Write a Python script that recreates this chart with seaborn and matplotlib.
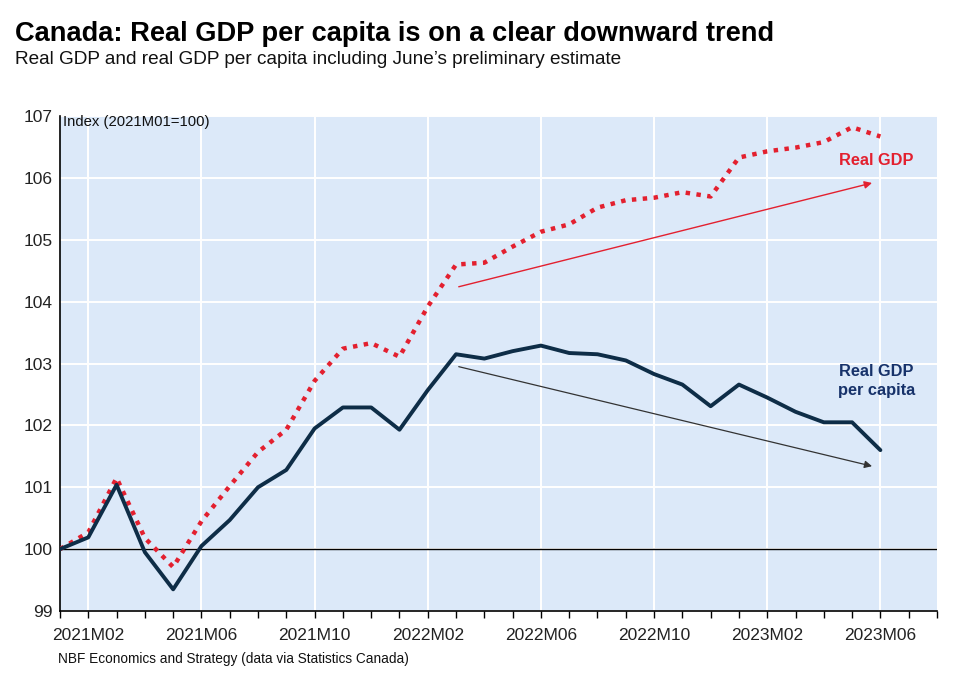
import matplotlib
matplotlib.use("Agg")
import matplotlib.pyplot as plt
import seaborn as sns
import pandas as pd

# ---- data ----
months = [f"{y}M{m:02d}" for y in (2021, 2022, 2023) for m in range(1, 13)][:30]
real_gdp = [100.0, 100.27, 101.15, 100.18, 99.71, 100.45, 101.02, 101.57, 101.93, 102.72,
            103.24, 103.33, 103.11, 103.92, 104.60, 104.63, 104.89, 105.13, 105.25, 105.52,
            105.64, 105.68, 105.77, 105.70, 106.33, 106.43, 106.49, 106.58, 106.82, 106.67]
real_gdp_pc = [100.0, 100.19, 101.04, 99.95, 99.35, 100.05, 100.47, 101.0, 101.28, 101.95,
               102.29, 102.29, 101.93, 102.57, 103.15, 103.08, 103.2, 103.29, 103.17, 103.15,
               103.05, 102.83, 102.66, 102.31, 102.66, 102.45, 102.22, 102.05, 102.05, 101.60]
tick_labels = ["2021M02", "2021M06", "2021M10", "2022M02", "2022M06", "2022M10", "2023M02", "2023M06"]
y_ticks = [99, 100, 101, 102, 103, 104, 105, 106, 107]

RED = "#e3202f"
NAVY = "#0e2d47"
BG = "#dce9f9"

df = pd.DataFrame({"idx": list(range(len(months))), "month": months,
                   "gdp": real_gdp, "gdp_pc": real_gdp_pc})

sns.set_theme(style="white")
plt.rcParams["font.family"] = ["Liberation Sans", "DejaVu Sans"]

fig = plt.figure(figsize=(9.6, 6.91), dpi=100)
ax = fig.add_axes([0.0625, 0.1158, 0.9135, 0.7162])
ax.set_facecolor(BG)

# grid
for t in y_ticks:
    ax.axhline(t, color="white", lw=1.4, zorder=0.5)
major_pos = [months.index(l) for l in tick_labels]
for p in major_pos:
    ax.axvline(p, color="white", lw=1.4, zorder=0.5)
ax.axhline(100, color="black", lw=1.0, zorder=1)

sns.lineplot(data=df, x="idx", y="gdp", ax=ax, color=RED, lw=3.2,
             linestyle=(0, (1, 1.45)), zorder=3)
sns.lineplot(data=df, x="idx", y="gdp_pc", ax=ax, color=NAVY, lw=2.8, zorder=4)

ax.set_xlim(0, 31)
ax.set_ylim(99, 107)
ax.set_xticks(major_pos)
ax.set_xticklabels(tick_labels)
ax.set_xticks(range(0, 32), minor=True)
ax.set_yticks(y_ticks)
ax.set_xlabel("")
ax.set_ylabel("")
ax.tick_params(axis="x", which="both", direction="out", length=5, width=1, color="black",
               bottom=True, labelsize=12.5, pad=7, labelcolor="#222222")
ax.tick_params(axis="y", length=0, labelsize=12.5, pad=5, labelcolor="#222222")

for s in ["top", "right"]:
    ax.spines[s].set_visible(False)
for s in ["left", "bottom"]:
    ax.spines[s].set_color("black")
    ax.spines[s].set_linewidth(1.2)

# arrows
ax.annotate("", xy=(28.8, 105.93), xytext=(14.0, 104.23),
            arrowprops=dict(arrowstyle="-|>", color=RED, lw=1.0, mutation_scale=11))
ax.annotate("", xy=(28.8, 101.33), xytext=(14.0, 102.96),
            arrowprops=dict(arrowstyle="-|>", color="#333333", lw=0.9, mutation_scale=11))

ax.text(28.85, 106.28, "Real GDP", color=RED, fontsize=11.8, fontweight="bold", ha="center", va="center")
ax.text(28.85, 102.72, "Real GDP\nper capita", color="#17326a", fontsize=11.8, fontweight="bold",
        ha="center", va="center", linespacing=1.3)
ax.text(0.12, 106.9, "Index (2021M01=100)", fontsize=10.7, ha="left", va="center", color="#111111")

fig.text(15 / 960, 1 - 34 / 691, "Canada: Real GDP per capita is on a clear downward trend",
         fontsize=19.6, fontweight="bold", ha="left", va="center", color="black")
fig.text(15 / 960, 1 - 60 / 691, "Real GDP and real GDP per capita including June\u2019s preliminary estimate",
         fontsize=13.7, ha="left", va="center", color="#111111")
fig.text(58 / 960, 1 - 659 / 691, "NBF Economics and Strategy (data via Statistics Canada)",
         fontsize=9.85, ha="left", va="center", color="#111111")

fig.savefig("out.png", dpi=100, facecolor="white")
